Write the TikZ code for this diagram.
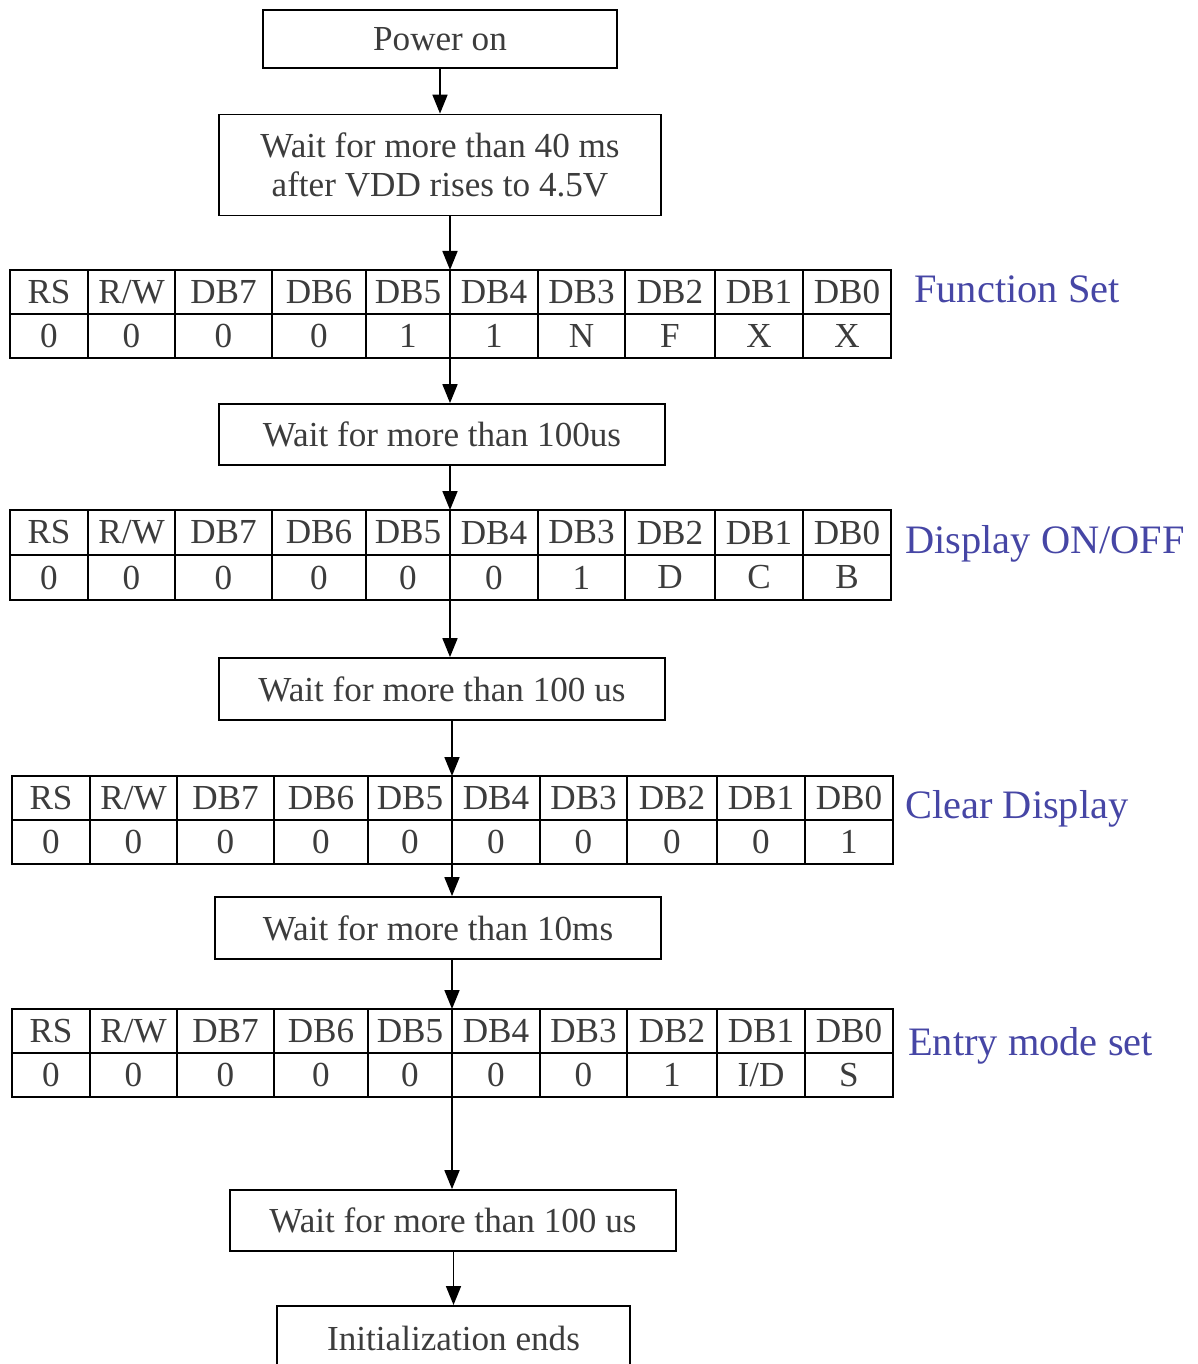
\documentclass[tikz,border=0pt]{standalone}
\usepackage{fontspec}
\setmainfont{Liberation Serif}
\usetikzlibrary{arrows.meta}

\definecolor{inkgray}{RGB}{60,60,60}
\definecolor{labelblue}{RGB}{70,70,165}

\newcommand{\boxfont}{\fontsize{20}{22}\selectfont}
\newcommand{\labelfont}{\fontsize{23}{26}\selectfont}

% column edges of a register table (px, from its left side)
\def\colx{{0,78,165,262,356,440,528,615,705,793,881}}

% #1 name, #2 left, #3 top, #4 row height, #5 values
\newcommand{\regtable}[5]{%
  \foreach \txt [count=\i] in {RS,R/W,DB7,DB6,DB5,DB4,DB3,DB2,DB1,DB0} {
    \pgfmathsetmacro\cellx{#2+\colx[\i-1]}
    \pgfmathsetmacro\cellw{\colx[\i]-\colx[\i-1]}
    \node[cell, minimum width=\cellw*0.02cm, minimum height=#4*0.02cm]
      (#1h\i) at (\cellx,#3) {\txt};
  }
  \foreach \txt [count=\i] in {#5} {
    \pgfmathsetmacro\cellx{#2+\colx[\i-1]}
    \pgfmathsetmacro\cellw{\colx[\i]-\colx[\i-1]}
    \node[cell, minimum width=\cellw*0.02cm, minimum height=#4*0.02cm]
      (#1v\i) at (\cellx,#3+#4) {\txt};
  }
}

\begin{document}
\begin{tikzpicture}[x=0.02cm, y=-0.02cm,
    stepbox/.style={draw, line width=1pt, inner sep=0pt, align=center,
      text=inkgray, font=\boxfont},
    cell/.style={draw, line width=1pt, inner sep=0pt, outer sep=0pt,
      anchor=north west, text=inkgray, font=\boxfont},
    regname/.style={anchor=west, text=labelblue, font=\labelfont},
    flow/.style={-{Triangle[length=3.8mm, width=3mm]}, line width=1pt}]

  \useasboundingbox (0,0) rectangle (1197,1364);
  \clip (0,0) rectangle (1197,1364);

  % steps
  \node[stepbox, minimum width=7.08cm, minimum height=1.16cm] (pwr) at (440,39) {Power on};
  \node[stepbox, minimum width=8.84cm, minimum height=2.02cm] (wait40) at (440,165)
    {Wait for more than 40 ms\\after VDD rises to 4.5V};
  \node[stepbox, minimum width=8.92cm, minimum height=1.22cm] (waitA) at (442,434.5)
    {Wait for more than 100us};
  \node[stepbox, minimum width=8.92cm, minimum height=1.24cm] (waitB) at (442,689)
    {Wait for more than 100 us};
  \node[stepbox, minimum width=8.92cm, minimum height=1.24cm] (waitC) at (438,928)
    {Wait for more than 10ms};
  \node[stepbox, minimum width=8.92cm, minimum height=1.22cm] (waitD) at (453,1220.5)
    {Wait for more than 100 us};
  \node[stepbox, minimum width=7.06cm, minimum height=1.24cm, anchor=north] (fin) at (453.5,1305)
    {\raisebox{0.55cm}{}Initialization ends};

  % register tables
  \regtable{fs}{10}{270}{44}{0,0,0,0,1,1,N,F,X,X}
  \regtable{dc}{10}{510}{45}{0,0,0,0,0,0,1,D,C,B}
  \regtable{cd}{12}{776}{44}{0,0,0,0,0,0,0,0,0,1}
  \regtable{em}{12}{1009}{44}{0,0,0,0,0,0,0,1,I/D,S}

  \node[regname] (fsname) at (908,289) {Function Set};
  \node[regname] (dcname) at (899,544) {Display ON/OFF};
  \node[regname] (cdname) at (899,809) {Clear Display};
  \node[regname] (emname) at (902,1046) {Entry mode set};

  % arrows
  \draw[flow] (pwr) -- (wait40);
  \draw[flow] (wait40.south -| fsh6.north west) -- (fsh6.north west);
  \draw[flow] (fsv6.south west) -- (fsv6.south west |- waitA.north);
  \draw[flow] (waitA.south -| dch6.north west) -- (dch6.north west);
  \draw[flow] (dcv6.south west) -- (dcv6.south west |- waitB.north);
  \draw[flow] (waitB.south -| cdh6.north west) -- (cdh6.north west);
  \draw[flow] (cdv6.south west) -- (cdv6.south west |- waitC.north);
  \draw[flow] (waitC.south -| emh6.north west) -- (emh6.north west);
  \draw[flow] (emv6.south west) -- (emv6.south west |- waitD.north);
  \draw[flow] (waitD.south -| fin.north) -- (fin.north);
\end{tikzpicture}
\end{document}
